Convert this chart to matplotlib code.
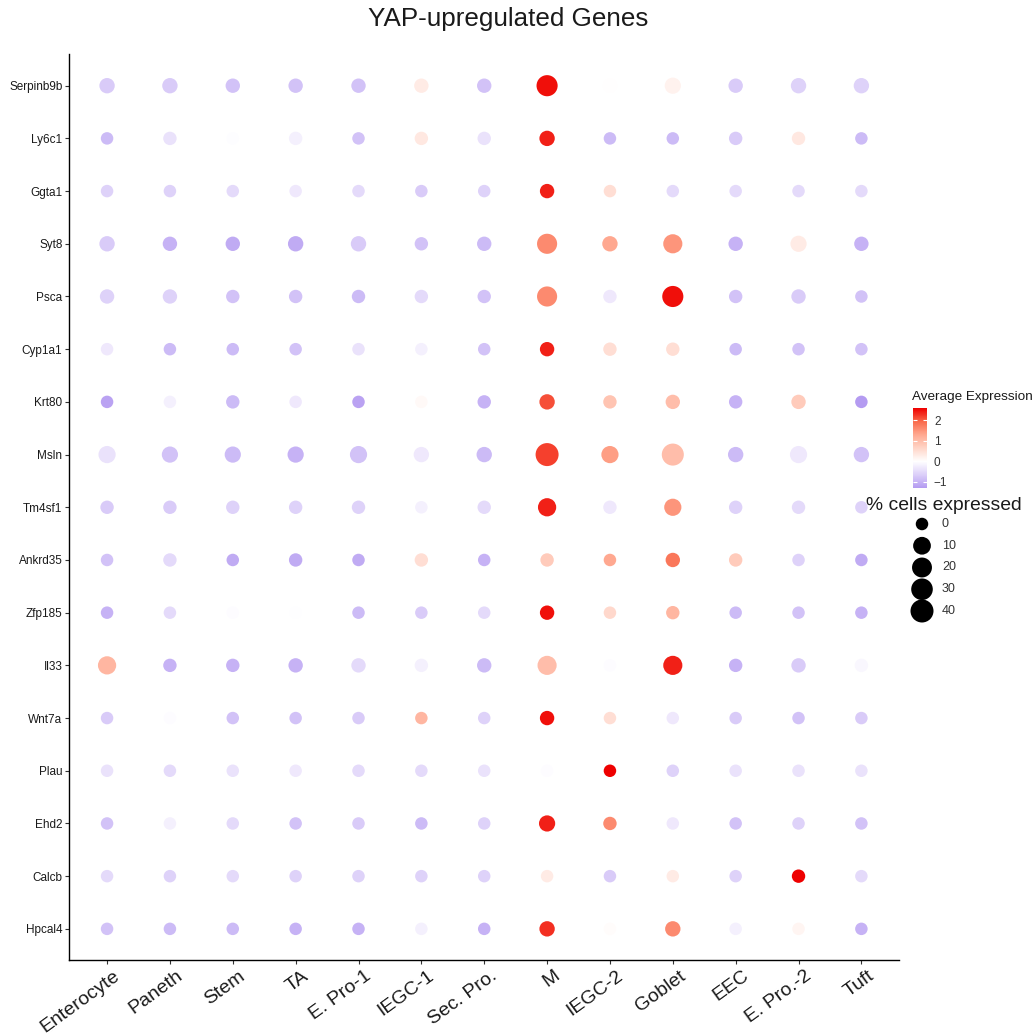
import numpy as np
import matplotlib
matplotlib.use("Agg")
import matplotlib.pyplot as plt
import matplotlib.transforms as mtransforms
from matplotlib.colors import LinearSegmentedColormap, Normalize

plt.rcParams['font.family'] = ['Liberation Sans', 'DejaVu Sans']

genes = ['Serpinb9b', 'Ly6c1', 'Ggta1', 'Syt8', 'Psca', 'Cyp1a1', 'Krt80', 'Msln',
         'Tm4sf1', 'Ankrd35', 'Zfp185', 'Il33', 'Wnt7a', 'Plau', 'Ehd2', 'Calcb', 'Hpcal4']
cell_types = ['Enterocyte', 'Paneth', 'Stem', 'TA', 'E. Pro-1', 'IEGC-1', 'Sec. Pro.',
              'M', 'IEGC-2', 'Goblet', 'EEC', 'E. Pro.-2', 'Tuft']

# average scaled expression, one row per gene
avg_exp = [
    [-0.7, -0.7, -0.8, -0.8, -0.8, 0.3, -0.8, 2.5, 0.02, 0.2, -0.7, -0.6, -0.6],
    [-0.9, -0.4, -0.03, -0.2, -0.8, 0.35, -0.4, 2.4, -0.9, -0.9, -0.7, 0.35, -0.9],
    [-0.6, -0.6, -0.5, -0.3, -0.5, -0.7, -0.6, 2.4, 0.5, -0.5, -0.5, -0.5, -0.5],
    [-0.7, -1.0, -1.1, -1.1, -0.7, -0.8, -0.9, 1.6, 1.3, 1.5, -1.0, 0.3, -1.0],
    [-0.6, -0.6, -0.8, -0.8, -0.9, -0.5, -0.8, 1.6, -0.3, 2.5, -0.8, -0.7, -0.8],
    [-0.3, -0.9, -0.9, -0.8, -0.4, -0.2, -0.8, 2.4, 0.5, 0.5, -0.9, -0.8, -0.8],
    [-1.2, -0.2, -0.9, -0.3, -1.2, 0.1, -1.0, 2.1, 0.9, 1.0, -1.0, 0.8, -1.3],
    [-0.4, -0.8, -0.9, -1.0, -0.8, -0.3, -0.9, 2.2, 1.4, 1.0, -0.9, -0.3, -0.8],
    [-0.7, -0.7, -0.6, -0.6, -0.6, -0.2, -0.5, 2.4, -0.3, 1.5, -0.6, -0.5, -0.6],
    [-0.8, -0.5, -1.1, -1.1, -1.1, 0.5, -1.0, 0.8, 1.3, 1.8, 0.8, -0.6, -1.1],
    [-1.0, -0.5, -0.05, -0.02, -0.9, -0.7, -0.5, 2.5, 0.6, 1.1, -0.9, -0.8, -1.0],
    [1.1, -1.0, -1.0, -1.0, -0.5, -0.2, -0.9, 1.0, -0.05, 2.4, -1.0, -0.7, -0.1],
    [-0.7, -0.05, -0.8, -0.8, -0.7, 1.1, -0.6, 2.5, 0.5, -0.3, -0.7, -0.8, -0.7],
    [-0.4, -0.5, -0.4, -0.3, -0.5, -0.5, -0.4, -0.05, 2.6, -0.6, -0.4, -0.4, -0.4],
    [-0.8, -0.2, -0.5, -0.8, -0.7, -0.9, -0.6, 2.4, 1.6, -0.3, -0.8, -0.6, -0.8],
    [-0.5, -0.6, -0.5, -0.6, -0.6, -0.6, -0.6, 0.3, -0.7, 0.3, -0.6, 2.6, -0.5],
    [-0.8, -0.9, -0.9, -1.0, -1.0, -0.2, -1.0, 2.3, 0.05, 1.6, -0.2, 0.15, -1.0],
]

# percent of cells expressing, one row per gene
pct_exp = [
    [3, 3, 1.3, 1.3, 1.3, 1.3, 1.3, 27, 1.3, 5, 1.3, 3, 3],
    [0, 0.3, 0, 0.3, 0, 0.3, 0.3, 3, 0, 0, 0.3, 0.3, 0],
    [0, 0, 0, 0, 0, 0, 0, 1.3, 0, 0, 0, 0, 0],
    [3, 1.3, 1.3, 3, 3, 0.3, 1.3, 21, 3, 16, 1.3, 5, 1.3],
    [1.3, 1.3, 0.3, 0.3, 0.3, 0.3, 0.3, 21, 0.3, 27, 0.3, 1.3, 0],
    [0, 0, 0, 0, 0, 0, 0, 1.3, 0.3, 0.3, 0, 0, 0],
    [0, 0, 0.3, 0, 0, 0, 0.3, 3, 0.3, 1.3, 0.3, 1.3, 0],
    [8, 5, 5, 5, 8, 3, 3, 40, 8, 33, 3, 8, 3],
    [0.3, 0.3, 0.3, 0.3, 0.3, 0, 0.3, 12, 0.3, 8, 0.3, 0.3, 0],
    [0, 0.3, 0, 0.3, 0, 0.3, 0, 0.3, 0, 1.3, 0.3, 0, 0],
    [0, 0, 0, 0, 0, 0, 0, 1.3, 0, 0.3, 0, 0, 0],
    [12, 0.3, 0.3, 1.3, 1.3, 0.3, 1.3, 16, 0, 16, 0.3, 1.3, 0.3],
    [0, 0, 0, 0, 0, 0, 0, 1.3, 0, 0, 0, 0, 0],
    [0, 0, 0, 0, 0, 0, 0, 0, 0, 0, 0, 0, 0],
    [0, 0, 0, 0, 0, 0, 0, 5, 0.3, 0, 0, 0, 0],
    [0, 0, 0, 0, 0, 0, 0, 0, 0, 0, 0, 0.3, 0],
    [0, 0, 0, 0, 0, 0, 0, 3, 0, 3, 0, 0, 0],
]

legend_pct = [0, 10, 20, 30, 40]
colorbar_ticks = [-1, 0, 1, 2]


def dot_size(p):
    d = 12.5 + 10.5 * np.sqrt(np.asarray(p, dtype=float) / 40)  # diameter in px
    return (d * 0.72) ** 2


cmap = LinearSegmentedColormap.from_list('yap', [
    (0.0, '#B49BF1'), (0.1667, '#DCCFF9'), (0.3333, '#FFFFFF'),
    (0.5, '#FFD5C7'), (0.6667, '#FFA890'), (0.8333, '#F9694A'), (1.0, '#EE0000')])
norm = Normalize(vmin=-1.3, vmax=2.6)

fig = plt.figure(figsize=(10.35, 10.36), dpi=100)
ax = fig.add_axes([0.0670, 0.0729, 0.8017, 0.8749])

X, Y = np.meshgrid(np.arange(len(cell_types)), np.arange(len(genes)))
sc = ax.scatter(X.ravel(), Y.ravel(), s=dot_size(np.ravel(pct_exp)),
                c=np.ravel(avg_exp), cmap=cmap, norm=norm, edgecolors='none')

ax.set_xlim(-0.6, len(cell_types) - 0.4)
ax.set_ylim(len(genes) - 0.4, -0.6)
ax.set_xticks(range(len(cell_types)))
ax.set_xticklabels(cell_types, rotation=36, ha='right', va='top',
                   rotation_mode='anchor', fontsize=14)
ax.set_yticks(range(len(genes)))
ax.set_yticklabels(genes, fontsize=8.5, color='#1a1a1a')
ax.tick_params(axis='both', length=3, width=0.8, color='#333333')
ax.tick_params(axis='y', pad=2)
ax.tick_params(axis='x', pad=2)
shift = mtransforms.ScaledTranslation(6 / 100, 0, fig.dpi_scale_trans)
for lbl in ax.get_xticklabels():
    lbl.set_color('#1a1a1a')
    lbl.set_transform(lbl.get_transform() + shift)
for s in ['top', 'right']:
    ax.spines[s].set_visible(False)
for s in ['left', 'bottom']:
    ax.spines[s].set_linewidth(1.0)

fig.text(508 / 1035, 1 - 19 / 1036, 'YAP-upregulated Genes', ha='center', va='center',
         fontsize=18.7, color='#1a1a1a')

# colour bar
cax = fig.add_axes([913 / 1035, (1036 - 488) / 1036, 14 / 1035, 80 / 1036])
cb = fig.colorbar(sc, cax=cax, ticks=colorbar_ticks)
cb.outline.set_visible(False)
cax.yaxis.set_ticks_position('both')
cax.tick_params(direction='in', color='white', length=3, width=0.8,
                labelsize=8.5, pad=5, labelcolor='#333333')
fig.text(912 / 1035, 1 - 397 / 1036, 'Average Expression', ha='left', va='center',
         fontsize=9.7, color='#1a1a1a')

# size legend
fig.text(866 / 1035, 1 - 506 / 1036, '% cells expressed', ha='left', va='center',
         fontsize=13.9, color='#1a1a1a')
lax = fig.add_axes([0, 0, 1, 1], facecolor='none')
lax.set_xlim(0, 1035)
lax.set_ylim(1036, 0)
lax.axis('off')
ly = 524 + 21.75 * np.arange(len(legend_pct))
lax.scatter(np.full(len(legend_pct), 922), ly, s=dot_size(legend_pct), c='black', edgecolors='none')
for y, p in zip(ly, legend_pct):
    lax.text(942, y, str(p), va='center', ha='left', fontsize=9, color='#333333')

fig.savefig('out.png', dpi=100)
